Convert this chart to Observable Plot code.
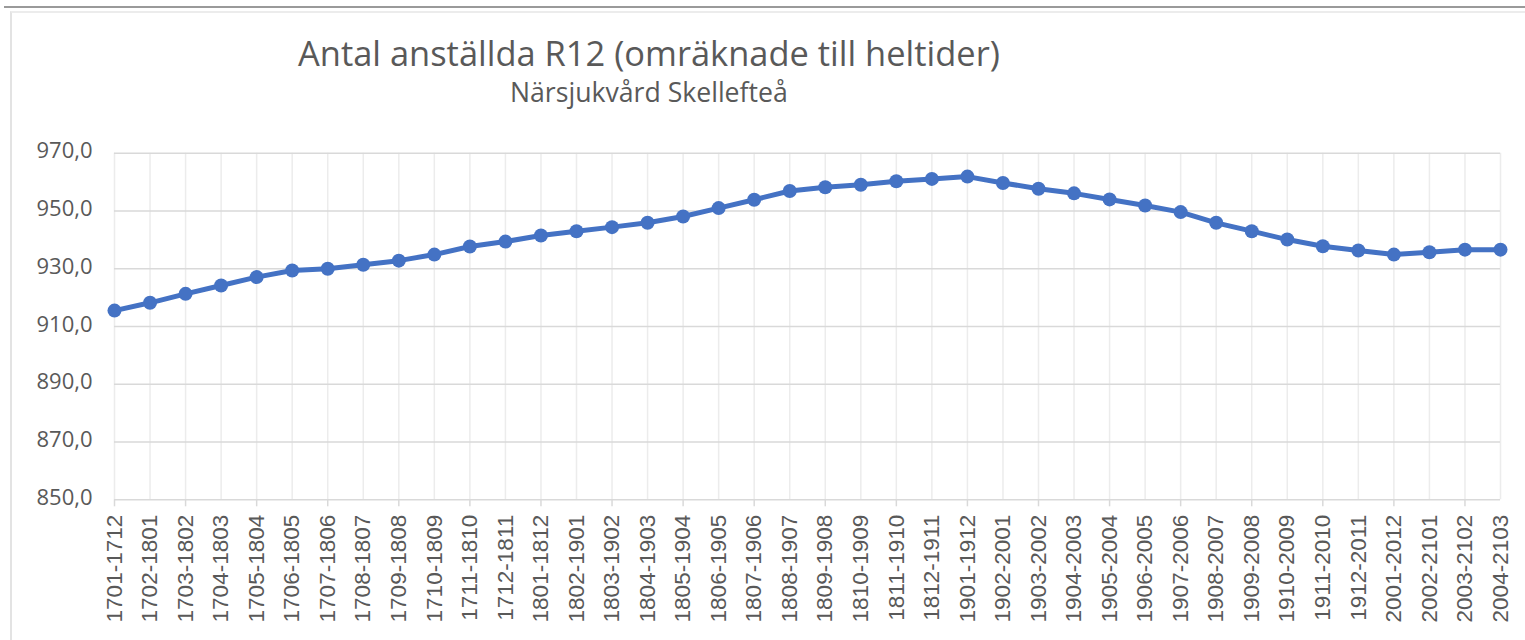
<!DOCTYPE html>
<html>
<head>
<meta charset="utf-8">
<script src="https://cdn.jsdelivr.net/npm/d3@7"></script>
<script src="https://cdn.jsdelivr.net/npm/@observablehq/plot@0.6"></script>
<style>
  html, body { margin: 0; padding: 0; background: #fff; }
  #wrap { position: relative; width: 1525px; height: 640px; overflow: hidden; background: #fff; }
  #topline { position: absolute; left: 4px; right: 0; top: 6px; height: 2px; background: #9a9a9a; }
  #box { position: absolute; left: 10px; top: 11px; right: -5px; bottom: -5px; border-left: 2px solid #e3e3e3; border-top: 2px solid #ececec; }
  #header { position: relative; height: 130px; }
  .ttl { position: absolute; white-space: nowrap; color: #595959; font-family: "Open Sans", sans-serif; line-height: 1; }
  #chart { position: absolute; left: 0; top: 130px; }
</style>
</head>
<body>
<div id="wrap">
  <div id="topline"></div>
  <div id="box"></div>
  <div id="header">
    <div class="ttl" id="title">Antal anställda R12 (omräknade till heltider)</div>
    <div class="ttl" id="subtitle">Närsjukvård Skellefteå</div>
  </div>
  <div id="chart"></div>
</div>
<script>
// ---- data ----
const periods = [
  "1701-1712","1702-1801","1703-1802","1704-1803","1705-1804","1706-1805","1707-1806","1708-1807",
  "1709-1808","1710-1809","1711-1810","1712-1811","1801-1812","1802-1901","1803-1902","1804-1903",
  "1805-1904","1806-1905","1807-1906","1808-1907","1809-1908","1810-1909","1811-1910","1812-1911",
  "1901-1912","1902-2001","1903-2002","1904-2003","1905-2004","1906-2005","1907-2006","1908-2007",
  "1909-2008","1910-2009","1911-2010","1912-2011","2001-2012","2002-2101","2003-2102","2004-2103"
];
const employees = [
  915.5, 918.2, 921.3, 924.2, 927.1, 929.4, 930.0, 931.4,
  932.8, 934.9, 937.7, 939.4, 941.5, 943.0, 944.4, 945.9,
  948.1, 951.0, 953.9, 956.9, 958.2, 959.1, 960.3, 961.1,
  961.9, 959.7, 957.7, 956.1, 954.0, 951.9, 949.6, 945.9,
  943.0, 940.1, 937.8, 936.3, 934.9, 935.7, 936.6, 936.6
];
const yTicks = [850, 870, 890, 910, 930, 950, 970];
const titleText = "Antal anställda R12 (omräknade till heltider)";
const subtitleText = "Närsjukvård Skellefteå";

const data = periods.map((p, i) => ({period: p, value: employees[i]}));

// ---- header text fitted to reference widths ----
function fitText(el, family, targetWidth, centerX, baselineY) {
  const c = document.createElement("canvas").getContext("2d");
  c.font = `100px ${family}`;
  const w = c.measureText(el.textContent).width;
  const size = 100 * targetWidth / w;
  el.style.fontSize = size + "px";
  el.style.left = (centerX - targetWidth / 2) + "px";
  el.style.top = (baselineY - 0.888 * size) + "px";
}
fitText(document.getElementById("title"), '"Open Sans"', 702, 649, 67);
fitText(document.getElementById("subtitle"), '"Open Sans"', 278, 649, 103);

// ---- chart ----
const fmt = d => d.toFixed(1).replace(".", ",");
const evenPeriods = periods.filter((_, i) => i % 2 === 0);

const plot = Plot.plot({
  width: 1525,
  height: 510,
  marginTop: 22.7,
  marginBottom: 140.7,
  marginLeft: 114,
  marginRight: 25,
  style: {background: "transparent", overflow: "visible"},
  x: {type: "point", domain: periods, padding: 0, round: false},
  y: {domain: [850, 970]},
  marks: [
    Plot.gridX(periods, {stroke: "#ececec", strokeOpacity: 1, strokeWidth: 1.5}),
    Plot.gridY(yTicks.filter(d => d !== 850), {stroke: "#d9d9d9", strokeOpacity: 1, strokeWidth: 1.5}),
    Plot.ruleY([850], {stroke: "#d9d9d9", strokeWidth: 1.5}),
    Plot.axisY(yTicks, {
      tickSize: 0, tickPadding: 22, tickFormat: fmt,
      fontSize: 22, fontFamily: '"Open Sans", sans-serif', fill: "#595959", dy: -2,
      label: null
    }),
    Plot.axisX(evenPeriods, {
      tickSize: 7, stroke: "#d9d9d9", strokeWidth: 1.5, strokeOpacity: 1, text: null, label: null
    }),
    Plot.axisX(periods, {
      tickSize: 0, tickPadding: 15, tickRotate: -90,
      fontSize: 22.5, fontFamily: '"Liberation Sans", Arial, sans-serif', fill: "#595959",
      label: null
    }),
    Plot.line(data, {x: "period", y: "value", stroke: "#4472c4", strokeWidth: 5}),
    Plot.dot(data, {x: "period", y: "value", r: 7, fill: "#4472c4", stroke: "none"})
  ]
});
document.getElementById("chart").appendChild(plot);
</script>
</body>
</html>
